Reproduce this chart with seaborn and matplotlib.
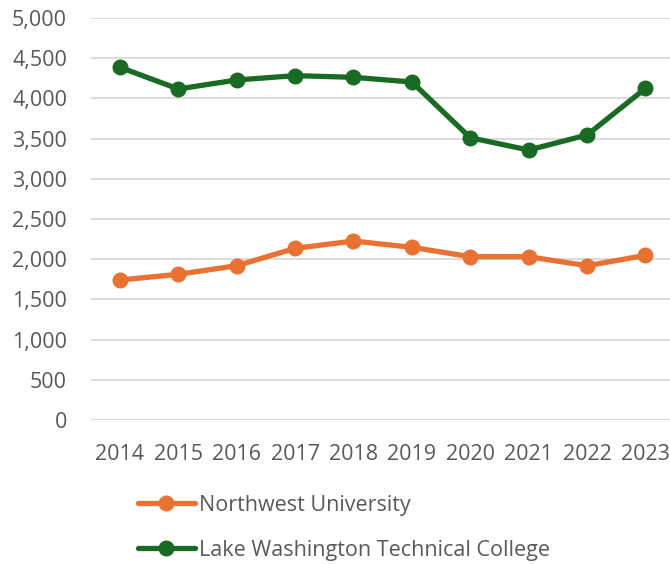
import numpy as np
import pandas as pd
import matplotlib
matplotlib.use("Agg")
import matplotlib.pyplot as plt
import seaborn as sns
from matplotlib.ticker import FuncFormatter

sns.set_style("white")
plt.rcParams['font.family'] = ['Open Sans', 'DejaVu Sans']

years = ['2014', '2015', '2016', '2017', '2018', '2019', '2020', '2021', '2022', '2023']
northwest = [1741, 1812, 1919, 2135, 2226, 2148, 2031, 2031, 1919, 2048]
lake_washington = [4387, 4117, 4229, 4283, 4262, 4204, 3511, 3358, 3545, 4125]
series_names = ['Northwest University', 'Lake Washington Technical College']
colors = ['#E97132', '#196B24']

df = pd.concat([
    pd.DataFrame({'Year': years, 'Count': northwest, 'School': series_names[0]}),
    pd.DataFrame({'Year': years, 'Count': lake_washington, 'School': series_names[1]}),
], ignore_index=True)

fig = plt.figure(figsize=(6.7, 5.64), dpi=100)
ax = fig.add_axes([0.1354, 0.2553, 0.8646, 0.7128])

sns.lineplot(data=df, x='Year', y='Count', hue='School', palette=colors,
             marker='o', markersize=11.5, markeredgewidth=0, linewidth=3.8,
             sort=False, ax=ax, legend=True)

ax.set_ylim(0, 5000)
ax.set_yticks(np.arange(0, 5001, 500))
ax.yaxis.set_major_formatter(FuncFormatter(lambda v, p: f'{int(v):,}'))
ax.set_xlim(-0.5, 9.42)
ax.grid(axis='y', color='#d9d9d9', linewidth=1.3)
ax.set_axisbelow(True)
for s in ax.spines.values():
    s.set_visible(False)
ax.tick_params(axis='both', length=0, labelsize=15.5, labelcolor='#595959')
ax.tick_params(axis='y', pad=17)
ax.tick_params(axis='x', pad=17)
ax.set_xlabel('')
ax.set_ylabel('')

handles, labels = ax.get_legend_handles_labels()
ax.get_legend().remove()
fig.legend(handles, labels, loc='upper left', bbox_to_anchor=(0.193, 0.1383),
           frameon=False, fontsize=15.5, labelcolor='#595959',
           handlelength=2.65, handletextpad=0.2, labelspacing=1.12,
           borderaxespad=0)

fig.savefig('out.png', dpi=100)
